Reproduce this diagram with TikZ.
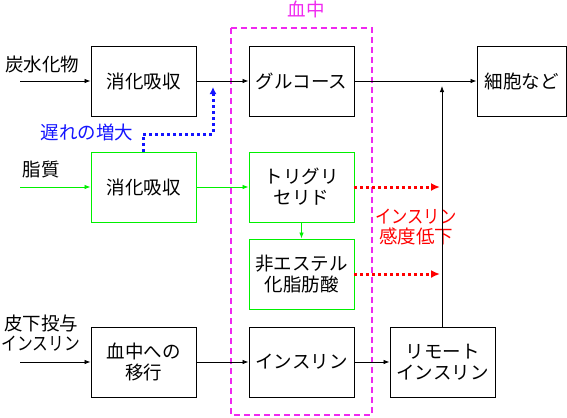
\documentclass[tikz,border=0pt]{standalone}
\usepackage{fontspec}
\setmainfont{Noto Sans CJK JP}
\usetikzlibrary{arrows.meta}
\definecolor{mag}{RGB}{240,40,240}
\definecolor{grn}{RGB}{0,240,0}
\definecolor{blu}{RGB}{20,20,255}
\definecolor{rd}{RGB}{255,0,0}
\tikzset{
  box/.style={draw, line width=0.9bp, minimum width=105bp, minimum height=70bp, align=center, inner sep=0pt, font=\fontsize{18.5bp}{21bp}\selectfont},
  gbox/.style={box, draw=grn},
  lbl/.style={align=center, inner sep=0pt, font=\fontsize{18.5bp}{20bp}\selectfont},
  arr/.style={line width=0.8bp, -{Latex[length=6bp,width=4.5bp]}},
  garr/.style={arr, draw=grn, -{Latex[length=6bp,width=4.5bp,fill=grn]}},
  reddot/.style={draw=rd, line width=3bp, dash pattern=on 3bp off 3bp, -{Latex[length=9bp,width=8bp]}, rd},
  bluedot/.style={draw=blu, line width=3bp, dash pattern=on 3bp off 3bp, -{Latex[length=7bp,width=7bp]}, blu},
}
\begin{document}
\begin{tikzpicture}[x=1bp,y=-1bp]
\useasboundingbox (0,0) rectangle (567,417);
% blood region
\draw[mag, line width=1.1bp, dash pattern=on 6bp off 4bp] (231,28) rectangle (372,415);
\node[lbl, text=mag] (blood) at (306,9) {血中};
% boxes
\node[box] (dig1) at (143.5,81) {消化吸収};
\node[box] (glu) at (301.5,81) {グルコース};
\node[box, minimum width=89bp] (cell) at (521.5,81) {細胞など};
\node[gbox] (dig2) at (143.5,187) {消化吸収};
\node[gbox] (tg) at (301.5,187) {トリグリ\\セリド};
\node[gbox] (nefa) at (301.5,274) {非エステル\\化脂肪酸};
\node[box] (trans) at (143.5,362) {血中への\\移行};
\node[box] (ins) at (301.5,362) {インスリン};
\node[box] (rem) at (442.5,362) {リモート\\インスリン};
% labels
\node[lbl] (carb) at (42,64) {炭水化物};
\node[lbl] (lip) at (41,170) {脂質};
\node[lbl] (sc) at (41,333) {皮下投与\\\scalebox{0.85}[1]{インスリン}};
\node[lbl, text=blu] (delay) at (87,132) {遅れの増大};
\node[lbl, text=rd] (sens) at (416,227) {\scalebox{0.88}[1]{インスリン}\\感度低下};
% free ends
\coordinate (c1) at (20,81);
\coordinate (c2) at (20,187);
\coordinate (c3) at (20,362);
\coordinate (up) at (442,86);
\coordinate (b1) at (143,134);
\coordinate (b2) at (213,134);
\coordinate (b3) at (213,87);
\coordinate (r1) at (440,187);
\coordinate (r2) at (440,274);
% connectors
\draw[arr] (c1) -- (dig1);
\draw[arr] (dig1) -- (glu);
\draw[arr] (glu) -- (cell);
\draw[garr] (c2) -- (dig2);
\draw[garr] (dig2) -- (tg);
\draw[garr] (tg) -- (nefa);
\draw[arr] (c3) -- (trans);
\draw[arr] (trans) -- (ins);
\draw[arr] (ins) -- (rem);
\draw[arr] (rem.north -| up) -- (up);
\draw[bluedot] (dig2.north -| b1) -- (b1) -- (b2) -- (b3);
\draw[reddot] (tg.east) -- (r1);
\draw[reddot] (nefa.east) -- (r2);
\end{tikzpicture}
\end{document}
